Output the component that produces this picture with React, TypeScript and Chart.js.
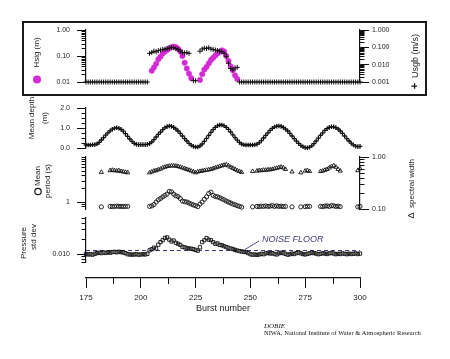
import React, { useEffect, useRef } from 'react';
import { Chart, registerables } from 'chart.js';

Chart.register(...registerables);

// ---------------- data (index i -> burst BURST_FIRST + i) ----------------
const BURST_FIRST = 175;
const BURST_LAST = 300;
const X_TICKS = [175, 200, 225, 250, 275, 300];
const X_MINOR = [187.5, 212.5, 237.5, 262.5, 287.5];

const HSIG_TICKS = [0.01, 0.1, 1];
const HSIG_LABELS = ['0.01', '0.10', '1.00'];
const USGB_TICKS = [0.001, 0.01, 0.1, 1];
const USGB_LABELS = ['0.001', '0.010', '0.100', '1.000'];
const DEPTH_TICKS = [0, 1, 2];
const DEPTH_LABELS = ['0.0', '1.0', '2.0'];
const PERIOD_TICKS = [1];
const PERIOD_LABELS = ['1'];
const SPEC_TICKS = [0.1, 1];
const SPEC_LABELS = ['0.10', '1.00'];
const PRESS_TICKS = [0.01];
const PRESS_LABELS = ['0.010'];
const NOISE_FLOOR = 0.012;

// Significant wave height (m)
const HSIG: (number | null)[] = [
  null, null, null, null, null, null, null, null, null, null, // 175
  null, null, null, null, null, null, null, null, null, null, // 185
  null, null, null, null, null, null, null, null, null, null, // 195
  0.027, 0.036, 0.05, 0.075, 0.095, 0.125, 0.15, 0.17, 0.2, 0.22, // 205
  0.23, 0.22, 0.19, 0.15, 0.1, 0.055, 0.033, 0.021, 0.014, null, // 215
  null, null, 0.012, 0.02, 0.03, 0.038, 0.052, 0.07, 0.085, 0.105, // 225
  0.125, 0.145, 0.165, 0.15, 0.1, 0.065, 0.04, 0.028, 0.018, 0.013, // 235
];

// Usgb (m/s)
const USGB: (number | null)[] = [
  0.001, 0.001, 0.001, 0.001, 0.001, 0.001, 0.001, 0.001, 0.001, 0.001, // 175
  0.001, 0.001, 0.001, 0.001, 0.001, 0.001, 0.001, 0.001, 0.001, 0.001, // 185
  0.001, 0.001, 0.001, 0.001, 0.001, 0.001, 0.001, 0.001, 0.001, 0.045, // 195
  0.05, 0.06, 0.055, 0.065, 0.07, 0.075, 0.08, 0.085, 0.09, 0.1, // 205
  0.095, 0.085, 0.075, 0.06, 0.05, 0.048, 0.05, 0.045, null, 0.0012, // 215
  0.0012, null, 0.06, 0.08, 0.09, 0.085, 0.095, 0.08, 0.075, 0.07, // 225
  0.065, 0.06, 0.055, 0.045, 0.03, 0.012, 0.006, 0.005, 0.0065, 0.007, // 235
  0.001, 0.001, 0.001, 0.001, 0.001, 0.001, 0.001, 0.001, 0.001, 0.001, // 245
  0.001, 0.001, 0.001, 0.001, 0.001, 0.001, 0.001, 0.001, 0.001, 0.001, // 255
  0.001, 0.001, 0.001, 0.001, 0.001, 0.001, 0.001, 0.001, 0.001, 0.001, // 265
  0.001, 0.001, 0.001, 0.001, 0.001, 0.001, 0.001, 0.001, 0.001, 0.001, // 275
  0.001, 0.001, 0.001, 0.001, 0.001, 0.001, 0.001, 0.001, 0.001, 0.001, // 285
  0.001, 0.001, 0.001, 0.001, 0.001, 0.001, // 295
];

// Mean depth (m)
const DEPTH: number[] = [
  0.15, 0.15, 0.15, 0.16, 0.17, 0.2, 0.28, 0.4, 0.52, 0.64, // 175
  0.76, 0.86, 0.94, 0.99, 1.01, 0.99, 0.93, 0.84, 0.72, 0.58, // 185
  0.45, 0.33, 0.23, 0.18, 0.17, 0.17, 0.17, 0.17, 0.18, 0.22, // 195
  0.3, 0.42, 0.55, 0.68, 0.8, 0.92, 1.01, 1.07, 1.1, 1.08, // 205
  1.03, 0.95, 0.85, 0.73, 0.6, 0.47, 0.35, 0.23, 0.14, 0.08, // 215
  0.05, 0.05, 0.1, 0.2, 0.33, 0.48, 0.63, 0.78, 0.92, 1.03, // 225
  1.11, 1.15, 1.15, 1.11, 1.03, 0.93, 0.8, 0.66, 0.52, 0.39, // 235
  0.28, 0.2, 0.16, 0.15, 0.15, 0.15, 0.15, 0.16, 0.19, 0.26, // 245
  0.37, 0.5, 0.63, 0.76, 0.88, 0.98, 1.05, 1.09, 1.1, 1.08, // 255
  1.03, 0.95, 0.85, 0.73, 0.6, 0.47, 0.34, 0.23, 0.13, 0.06, // 265
  0.02, 0.01, 0.04, 0.11, 0.22, 0.35, 0.49, 0.63, 0.76, 0.88, // 275
  0.97, 1.03, 1.06, 1.06, 1.02, 0.95, 0.85, 0.73, 0.6, 0.47, // 285
  0.35, 0.24, 0.15, 0.09, 0.07, 0.08, // 295
];

// Mean period (s)
const PERIOD: (number | null)[] = [
  null, null, null, null, null, null, null, 0.78, null, null, // 175
  null, 0.8, 0.79, 0.8, 0.81, 0.8, 0.8, 0.79, 0.8, 0.8, // 185
  null, null, null, null, null, null, null, null, null, 0.8, // 195
  0.82, 0.88, 1.0, 1.12, 1.2, 1.3, 1.4, 1.5, 1.72, 1.68, // 205
  1.5, 1.38, 1.32, 1.2, 1.05, 1.02, 1.0, 0.95, 0.9, 0.86, // 215
  0.83, 0.79, 0.9, 1.0, 1.15, 1.3, 1.55, 1.65, 1.4, 1.33, // 225
  1.3, 1.25, 1.18, 1.12, 1.05, 1.0, 0.95, 0.9, 0.87, 0.83, // 235
  0.8, 0.77, null, null, null, null, 0.78, null, 0.8, 0.79, // 245
  0.81, 0.8, 0.82, 0.8, 0.81, 0.83, 0.8, 0.82, 0.8, 0.81, // 255
  0.79, 0.8, null, null, 0.78, null, null, null, 0.78, null, // 265
  0.79, 0.8, 0.8, null, null, null, null, 0.8, 0.79, 0.81, // 275
  0.82, 0.8, 0.83, 0.82, 0.8, 0.81, 0.79, null, null, null, // 285
  null, null, null, null, 0.78, 0.8, // 295
];

// Spectral width
const SPEC: (number | null)[] = [
  null, null, null, null, null, null, null, 0.51, null, null, // 175
  null, 0.55, 0.56, 0.55, 0.54, 0.55, 0.53, 0.52, 0.51, 0.5, // 185
  null, null, null, null, null, null, null, null, null, 0.5, // 195
  0.52, 0.54, 0.55, 0.57, 0.59, 0.62, 0.64, 0.66, 0.67, 0.68, // 205
  0.68, 0.67, 0.66, 0.64, 0.62, 0.6, 0.58, 0.56, 0.54, 0.52, // 215
  0.5, 0.52, 0.53, 0.54, 0.55, 0.56, 0.57, 0.58, 0.6, 0.62, // 225
  0.64, 0.66, 0.68, 0.7, 0.71, 0.68, 0.64, 0.61, 0.58, 0.55, // 235
  0.53, 0.51, null, null, null, null, 0.53, null, 0.54, 0.55, // 245
  0.55, 0.56, 0.56, 0.57, 0.57, 0.58, 0.6, 0.61, 0.63, 0.64, // 255
  0.62, 0.58, null, null, 0.52, null, null, null, 0.5, null, // 265
  0.54, 0.55, 0.53, null, null, null, null, 0.53, 0.54, 0.56, // 275
  0.58, 0.62, 0.66, 0.68, 0.64, 0.58, 0.54, null, null, null, // 285
  null, null, null, null, 0.55, 0.6, // 295
];

// Pressure standard deviation
const PRESS: number[] = [
  0.0100, 0.0098, 0.0099, 0.0097, 0.0101, 0.0104, 0.0106, 0.0104, 0.0107, 0.0105, // 175
  0.0108, 0.0106, 0.0109, 0.0110, 0.0108, 0.0111, 0.0109, 0.0107, 0.0104, 0.0099, // 185
  0.0098, 0.0097, 0.0098, 0.0099, 0.0097, 0.0098, 0.0099, 0.0098, 0.0101, 0.0118, // 195
  0.0124, 0.0133, 0.0128, 0.0152, 0.017, 0.0185, 0.0205, 0.021, 0.019, 0.0175, // 205
  0.0183, 0.0165, 0.0158, 0.015, 0.0138, 0.0135, 0.013, 0.0128, 0.0127, 0.0124, // 215
  0.012, 0.0116, 0.0135, 0.017, 0.0185, 0.0203, 0.019, 0.0185, 0.017, 0.0158, // 225
  0.016, 0.015, 0.0148, 0.0142, 0.0136, 0.0132, 0.0128, 0.0125, 0.012, 0.0117, // 235
  0.0114, 0.0112, 0.011, 0.0109, 0.0104, 0.0099, 0.0097, 0.0098, 0.0096, 0.0098, // 245
  0.0101, 0.0099, 0.0103, 0.0105, 0.0102, 0.0104, 0.0100, 0.0098, 0.0103, 0.0106, // 255
  0.0104, 0.0101, 0.0097, 0.0099, 0.0102, 0.0100, 0.0104, 0.0107, 0.0103, 0.0100, // 265
  0.0098, 0.0101, 0.0103, 0.0106, 0.0104, 0.0102, 0.0099, 0.0101, 0.0104, 0.0102, // 275
  0.0100, 0.0103, 0.0105, 0.0102, 0.0099, 0.0101, 0.0100, 0.0103, 0.0101, 0.0099, // 285
  0.0102, 0.0100, 0.0101, 0.0103, 0.0100, 0.0102, // 295
];

// ---------------- styling ----------------
const MAGENTA = '#d42ad4';
const INK = '#111';
const TEXT = '#222';
const NOISE_COLOR = '#3a3a78';
const FONT = '"Liberation Sans", Arial, Helvetica, sans-serif';
const SERIF = '"Liberation Serif", "Times New Roman", serif';

const pts = (vals: (number | null)[]) =>
  vals
    .map((v, i) => (v == null ? null : { x: BURST_FIRST + i, y: v }))
    .filter((p) => p !== null) as { x: number; y: number }[];

const LEFT_W = 86;
const RIGHT_W = 90;

function valueAxis(
  pos: 'left' | 'right',
  weight: number,
  stackWeight: number,
  type: 'linear' | 'logarithmic',
  min: number,
  max: number,
  majors: number[],
  labels: string[],
) {
  return {
    type,
    position: pos,
    stack: pos === 'left' ? 'L' : 'R',
    stackWeight,
    weight,
    min,
    max,
    afterBuildTicks: (s: any) => {
      s.ticks = majors.map((v) => ({ value: v }));
    },
    afterFit: (s: any) => {
      s.width = pos === 'left' ? LEFT_W : RIGHT_W;
    },
    grid: { display: true, drawOnChartArea: false, drawTicks: true, tickLength: 9, color: INK, lineWidth: 1 },
    border: { display: true, color: INK, width: 1.2 },
    ticks: {
      display: true,
      autoSkip: false,
      padding: pos === 'left' ? 7 : 3,
      color: TEXT,
      font: { size: 7, family: FONT },
      callback: (_v: any, i: number) => labels[i] ?? '',
    },
  };
}

function gapAxis(pos: 'left' | 'right', weight: number, stackWeight: number) {
  return {
    type: 'linear',
    position: pos,
    stack: pos === 'left' ? 'L' : 'R',
    stackWeight,
    weight,
    display: true,
    afterFit: (s: any) => {
      s.width = pos === 'left' ? LEFT_W : RIGHT_W;
    },
    grid: { display: false },
    border: { display: false },
    ticks: { display: false },
  };
}

const MINOR_TICKS: Record<string, number[]> = {
  hsig: [0.02, 0.03, 0.04, 0.05, 0.06, 0.07, 0.08, 0.09, 0.2, 0.3, 0.4, 0.5, 0.6, 0.7, 0.8, 0.9],
  usgb: [0.002, 0.003, 0.004, 0.005, 0.006, 0.007, 0.008, 0.009, 0.02, 0.03, 0.04, 0.05, 0.06, 0.07, 0.08, 0.09, 0.2, 0.3, 0.4, 0.5, 0.6, 0.7, 0.8, 0.9],
  depth: [0.25, 0.5, 0.75, 1.25, 1.5, 1.75],
  period: [0.8, 0.9, 2, 3, 4, 5, 6, 7, 8, 9, 10],
  spec: [0.2, 0.3, 0.4, 0.5, 0.6, 0.7, 0.8, 0.9],
  press: [0.007, 0.008, 0.009, 0.02, 0.03, 0.04, 0.05],
  x: X_MINOR,
};

function vText(ctx: CanvasRenderingContext2D, text: string, x: number, y: number, font: string, color = TEXT) {
  ctx.save();
  ctx.translate(x, y);
  ctx.rotate(-Math.PI / 2);
  ctx.font = font;
  ctx.fillStyle = color;
  ctx.textAlign = 'center';
  ctx.textBaseline = 'middle';
  ctx.fillText(text, 0, 0);
  ctx.restore();
}

const overlay = {
  id: 'overlay',
  beforeDatasetsDraw(chart: any) {
    const { ctx, chartArea, scales } = chart;
    const y = Math.round(scales.press.getPixelForValue(NOISE_FLOOR)) + 0.5;
    ctx.save();
    ctx.strokeStyle = NOISE_COLOR;
    ctx.lineWidth = 1;
    ctx.setLineDash([4, 3]);
    ctx.beginPath();
    ctx.moveTo(chartArea.left, y);
    ctx.lineTo(chartArea.right, y);
    ctx.stroke();
    ctx.restore();
  },
  afterDraw(chart: any) {
    const { ctx, scales } = chart;
    // minor ticks
    ctx.save();
    ctx.strokeStyle = INK;
    ctx.lineWidth = 1;
    Object.keys(MINOR_TICKS).forEach((id) => {
      const s = scales[id];
      if (!s) return;
      MINOR_TICKS[id].forEach((v) => {
        const p = Math.round(s.getPixelForValue(v)) + 0.5;
        ctx.beginPath();
        if (id === 'x') {
          ctx.moveTo(p, s.top);
          ctx.lineTo(p, s.top + 6);
        } else if (s.position === 'left') {
          ctx.moveTo(s.right, p);
          ctx.lineTo(s.right - 4.5, p);
        } else {
          ctx.moveTo(s.left, p);
          ctx.lineTo(s.left + 4.5, p);
        }
        ctx.stroke();
      });
    });
    ctx.restore();

    // frame around top panel
    ctx.save();
    ctx.strokeStyle = '#1a1a1a';
    ctx.lineWidth = 2;
    ctx.strokeRect(23, 22, 403, 73);
    ctx.restore();

    const f8 = `8px ${FONT}`;
    // Hsig title + legend dot
    vText(ctx, 'Hsig (m)', 37, 52.5, f8);
    ctx.save();
    ctx.fillStyle = MAGENTA;
    ctx.beginPath();
    ctx.arc(37, 79.5, 4, 0, Math.PI * 2);
    ctx.fill();
    ctx.restore();
    // Usgb title + legend plus
    vText(ctx, 'Usgb (m/s)', 416, 56, `9px ${FONT}`);
    vText(ctx, '+', 415, 86, `bold 11px ${FONT}`, INK);

    // Mean depth
    vText(ctx, 'Mean depth', 32, 118, f8);
    vText(ctx, '(m)', 45, 118, f8);

    // Mean period
    vText(ctx, 'Mean', 38, 176, f8);
    ctx.save();
    ctx.strokeStyle = INK;
    ctx.lineWidth = 1.2;
    ctx.beginPath();
    ctx.arc(38, 191.5, 3.2, 0, Math.PI * 2);
    ctx.stroke();
    ctx.restore();
    vText(ctx, 'period (s)', 48, 181, f8);

    // spectral width
    vText(ctx, 'spectral width', 412, 183.5, f8);
    vText(ctx, 'Δ', 412, 215.5, `9px ${FONT}`);

    // Pressure
    vText(ctx, 'Pressure', 24, 243, f8);
    vText(ctx, 'std dev', 34, 237, f8);

    // Noise floor label
    const yn = scales.press.getPixelForValue(NOISE_FLOOR);
    ctx.save();
    ctx.fillStyle = NOISE_COLOR;
    ctx.strokeStyle = NOISE_COLOR;
    ctx.font = `italic 9px ${FONT}`;
    ctx.textAlign = 'left';
    ctx.textBaseline = 'middle';
    ctx.fillText('NOISE FLOOR', 262, yn - 10);
    ctx.lineWidth = 0.9;
    ctx.beginPath();
    ctx.moveTo(259, yn - 9);
    ctx.lineTo(245, yn - 0.5);
    ctx.stroke();
    ctx.restore();

    // footer
    ctx.save();
    ctx.fillStyle = '#111';
    ctx.textAlign = 'left';
    ctx.textBaseline = 'middle';
    ctx.font = `italic 7px ${SERIF}`;
    ctx.fillText('DOBIE', 264, 326);
    ctx.font = `6.5px ${SERIF}`;
    ctx.fillText('NIWA, National Institute of Water & Atmospheric Research', 264, 333.5, 164);
    ctx.restore();
  },
};

export default function App() {
  const ref = useRef<HTMLCanvasElement>(null);

  useEffect(() => {
    if (!ref.current) return;
    Chart.defaults.font.family = FONT;
    const common = { showLine: false, clip: false as any };
    const chart = new Chart(ref.current, {
      type: 'scatter',
      data: {
        datasets: [
          {
            ...common,
            label: 'Usgb',
            data: pts(USGB),
            yAxisID: 'usgb',
            pointStyle: 'cross',
            pointRadius: 2.5,
            borderColor: INK,
            borderWidth: 1,
          },
          {
            ...common,
            label: 'Hsig',
            data: pts(HSIG),
            yAxisID: 'hsig',
            pointStyle: 'circle',
            pointRadius: 2.7,
            backgroundColor: MAGENTA,
            borderColor: MAGENTA,
            borderWidth: 0.5,
          },
          {
            ...common,
            label: 'Mean depth',
            data: pts(DEPTH),
            yAxisID: 'depth',
            pointStyle: 'cross',
            pointRadius: 2.3,
            borderColor: INK,
            borderWidth: 1.3,
          },
          {
            ...common,
            label: 'Mean period',
            data: pts(PERIOD),
            yAxisID: 'period',
            pointStyle: 'circle',
            pointRadius: 2.1,
            backgroundColor: 'rgba(0,0,0,0)',
            borderColor: INK,
            borderWidth: 0.9,
          },
          {
            ...common,
            label: 'Spectral width',
            data: pts(SPEC),
            yAxisID: 'spec',
            pointStyle: 'triangle',
            pointRadius: 2.4,
            backgroundColor: 'rgba(0,0,0,0)',
            borderColor: INK,
            borderWidth: 0.9,
          },
          {
            ...common,
            label: 'Pressure std dev',
            data: pts(PRESS),
            yAxisID: 'press',
            pointStyle: 'rect',
            pointRadius: 2.3,
            backgroundColor: 'rgba(0,0,0,0)',
            borderColor: INK,
            borderWidth: 0.9,
          },
        ],
      },
      options: {
        responsive: false,
        maintainAspectRatio: false,
        animation: false,
        devicePixelRatio: 1,
        events: [],
        layout: { padding: { left: 0, right: 0, top: 30, bottom: 41 } },
        plugins: { legend: { display: false }, tooltip: { enabled: false }, title: { display: false } },
        scales: {
          x: {
            type: 'linear',
            position: 'bottom',
            min: BURST_FIRST,
            max: BURST_LAST,
            afterBuildTicks: (s: any) => {
              s.ticks = X_TICKS.map((v) => ({ value: v }));
            },
            afterFit: (s: any) => {
              s.height = 40;
            },
            grid: { display: true, drawOnChartArea: false, drawTicks: true, tickLength: 10, color: INK },
            border: { display: true, color: INK, width: 1.2 },
            ticks: {
              autoSkip: false,
              maxRotation: 0,
              padding: 5,
              color: TEXT,
              font: { size: 8, family: FONT },
              callback: (_v: any, i: number) => String(X_TICKS[i]),
            },
            title: {
              display: true,
              text: 'Burst number',
              color: TEXT,
              font: { size: 9, family: FONT },
              padding: { top: 0, bottom: 4 },
            },
          },
          hsig: valueAxis('left', 8, 52, 'logarithmic', 0.01, 1, HSIG_TICKS, HSIG_LABELS),
          gapL1: gapAxis('left', 7, 26),
          depth: valueAxis('left', 6, 40, 'linear', 0, 2, DEPTH_TICKS, DEPTH_LABELS),
          gapL2: gapAxis('left', 5, 9),
          period: valueAxis('left', 4, 52, 'logarithmic', 0.72, 10, PERIOD_TICKS, PERIOD_LABELS),
          gapL3: gapAxis('left', 3, 9),
          press: valueAxis('left', 2, 44, 'logarithmic', 0.007, 0.05, PRESS_TICKS, PRESS_LABELS),
          gapL4: gapAxis('left', 1, 16),
          usgb: valueAxis('right', 1, 52, 'logarithmic', 0.001, 1, USGB_TICKS, USGB_LABELS),
          gapR1: gapAxis('right', 2, 75),
          spec: valueAxis('right', 3, 52, 'logarithmic', 0.1, 1, SPEC_TICKS, SPEC_LABELS),
          gapR2: gapAxis('right', 4, 69),
        } as any,
      },
      plugins: [overlay],
    } as any);
    return () => chart.destroy();
  }, []);

  return (
    <div style={{ position: 'absolute', left: 0, top: 0, width: 450, height: 359, background: '#fff' }}>
      <canvas ref={ref} width={450} height={359} style={{ display: 'block', width: 450, height: 359 }} />
    </div>
  );
}
